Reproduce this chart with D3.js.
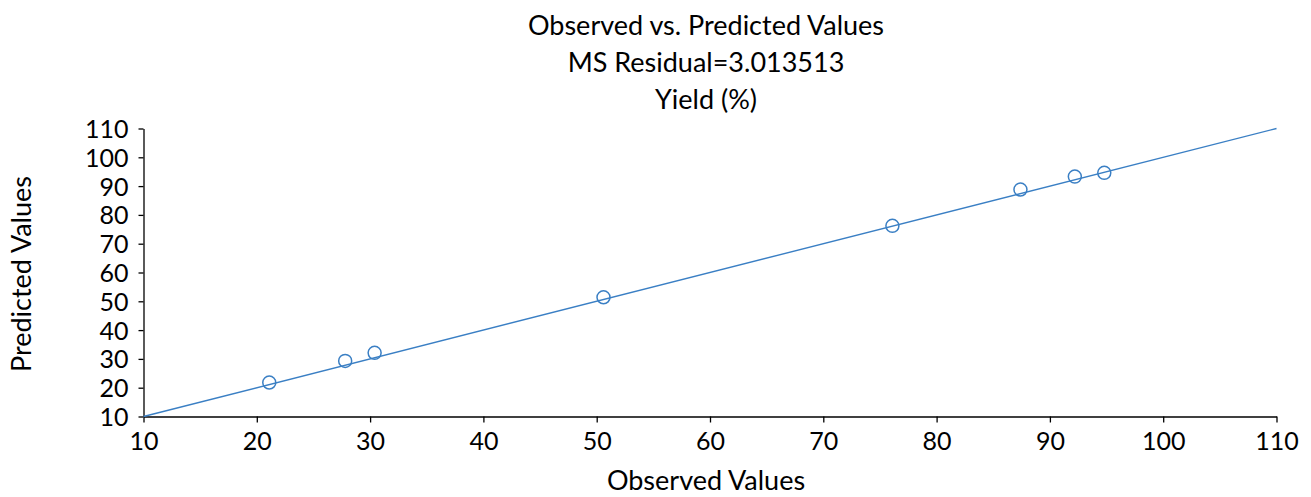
<!DOCTYPE html>
<html><head><meta charset="utf-8">
<script src="https://cdn.jsdelivr.net/npm/d3@7"></script>
<style>body{margin:0;background:#fff}svg{display:block}text{font-family:Lato,"Open Sans",sans-serif;fill:#000}</style>
</head><body><svg id="c" width="1311" height="497"></svg>
<script>
const titleLines = ["Observed vs. Predicted Values", "MS Residual=3.013513", "Yield (%)"];
const xLabel = "Observed Values";
const yLabel = "Predicted Values";
const observed  = [21.1, 27.8, 30.4, 50.6, 76.1, 87.4, 92.2, 94.8];
const predicted = [21.8, 29.3, 32.1, 51.4, 76.2, 88.8, 93.3, 94.6];
const ticks = [10, 20, 30, 40, 50, 60, 70, 80, 90, 100, 110];
const refLine = [10, 110];

const svg = d3.select("#c");
const x = d3.scaleLinear().domain([10, 110]).range([143.5, 1276.5]);
const y = d3.scaleLinear().domain([10, 110]).range([416.5, 128.5]);
const blue = "#3a7fc4";

svg.selectAll("text.title").data(titleLines).join("text")
  .attr("x", 706).attr("y", (d, i) => 35 + i * 37)
  .attr("text-anchor", "middle").attr("font-size", 27).text(d => d);

const xa = svg.append("g").attr("transform", `translate(0,${y(10)})`)
  .call(d3.axisBottom(x).tickValues(ticks).tickSize(6).tickSizeOuter(0).tickPadding(10));
const ya = svg.append("g").attr("transform", `translate(${x(10)},0)`)
  .call(d3.axisLeft(y).tickValues(ticks).tickSize(5).tickSizeOuter(0).tickPadding(10));
[xa, ya].forEach(a => {
  a.selectAll("path,line").attr("stroke", "#000").attr("stroke-width", 1.3);
  a.selectAll("text").attr("font-size", 25).attr("font-family", "Lato").attr("fill", "#000");
});
ya.selectAll("text").attr("dy", "0.36em");

svg.append("line")
  .attr("x1", x(refLine[0])).attr("y1", y(refLine[0]))
  .attr("x2", x(refLine[1])).attr("y2", y(refLine[1]))
  .attr("stroke", blue).attr("stroke-width", 1.4);

svg.selectAll("circle").data(observed).join("circle")
  .attr("cx", d => x(d)).attr("cy", (d, i) => y(predicted[i]))
  .attr("r", 6.5).attr("fill", "none").attr("stroke", blue).attr("stroke-width", 1.5);

svg.append("text").attr("x", 706).attr("y", 490).attr("text-anchor", "middle")
  .attr("font-size", 27).text(xLabel);
svg.append("text").attr("transform", "translate(31,274) rotate(-90)")
  .attr("text-anchor", "middle").attr("font-size", 27).text(yLabel);
</script></body></html>
